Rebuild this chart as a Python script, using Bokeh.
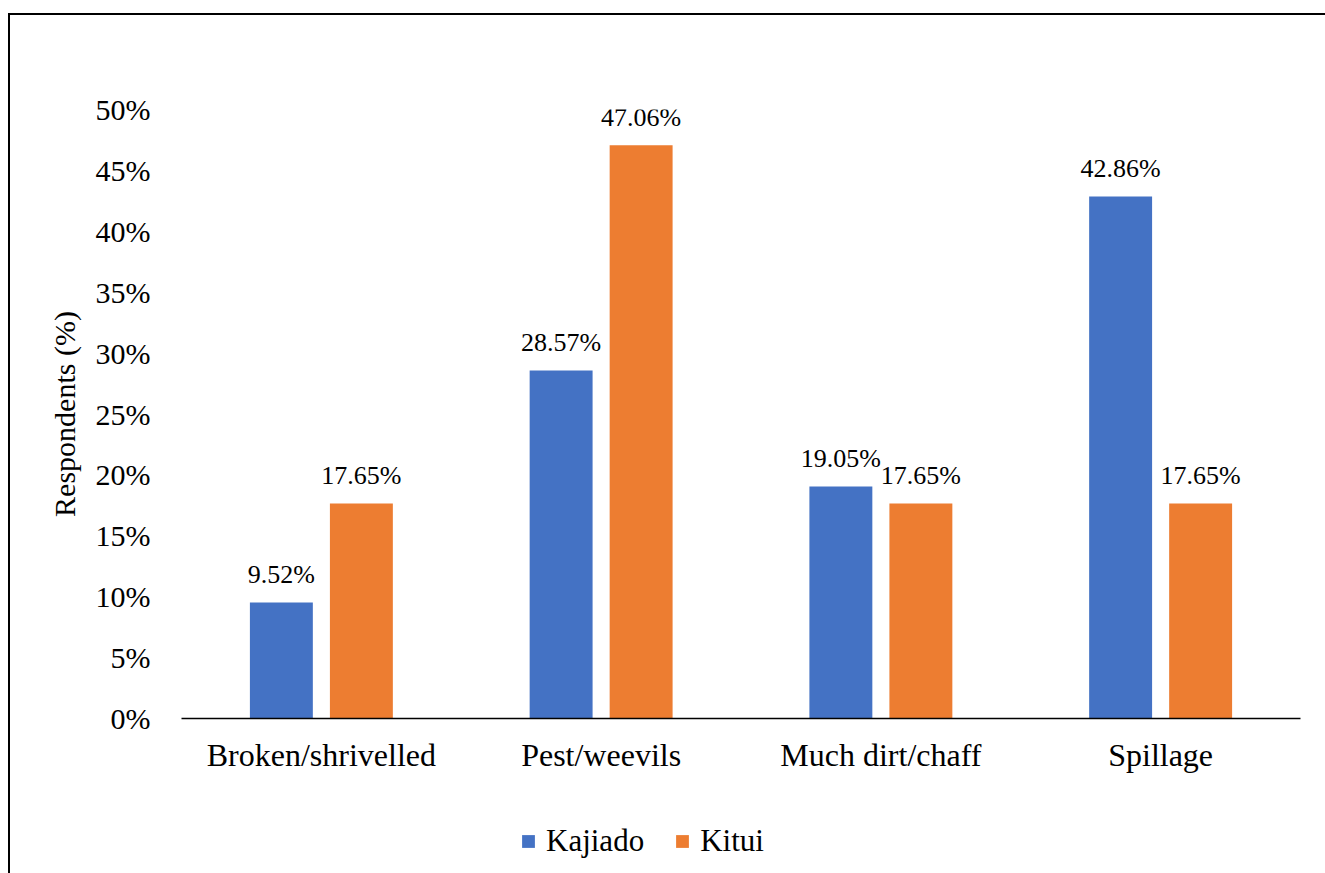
from bokeh.plotting import figure
from bokeh.layouts import column
from bokeh.models import (ColumnDataSource, FactorRange, Range1d, FixedTicker,
                          NumeralTickFormatter, Legend, LegendItem, InlineStyleSheet)
from bokeh.transform import dodge
from bokeh.embed import file_html
from bokeh.resources import INLINE

# Reasons for grain loss reported by respondents
categories = ["Broken/shrivelled", "Pest/weevils", "Much dirt/chaff", "Spillage"]
kajiado = [9.52, 28.57, 19.05, 42.86]
kitui = [17.65, 47.06, 17.65, 17.65]
y_ticks = [0, 5, 10, 15, 20, 25, 30, 35, 40, 45, 50]
series_names = ["Kajiado", "Kitui"]

FONT = "Liberation Serif"
BLUE = "#4472C4"
ORANGE = "#ED7D31"

src = ColumnDataSource(dict(
    cat=categories,
    kaj=[v / 100 for v in kajiado],
    kit=[v / 100 for v in kitui],
    kaj_lbl=[f"{v:.2f}%" for v in kajiado],
    kit_lbl=[f"{v:.2f}%" for v in kitui],
))

W, H_MAIN, H_LEG = 1325, 800, 73

p = figure(width=W, height=H_MAIN, x_range=FactorRange(*categories),
           y_range=Range1d(0, 0.5), output_backend="svg", toolbar_location=None,
           min_border_left=181, min_border_right=25, min_border_top=109,
           min_border_bottom=H_MAIN - 718)
p.background_fill_color = "white"
p.border_fill_color = "white"
p.outline_line_color = None
p.grid.visible = False

off = 0.143
w = 0.225
p.vbar(x=dodge("cat", -off, range=p.x_range), top="kaj", width=w, source=src,
       fill_color=BLUE, line_color=None)
p.vbar(x=dodge("cat", off, range=p.x_range), top="kit", width=w, source=src,
       fill_color=ORANGE, line_color=None)

for col, lbl, dx in (("kaj", "kaj_lbl", -off), ("kit", "kit_lbl", off)):
    p.text(x=dodge("cat", dx, range=p.x_range), y=col, text=lbl, source=src,
           text_font={"value": FONT}, text_font_size="26px", text_color="black",
           text_align="center", text_baseline="middle", y_offset=-28)

# y axis
yax = p.yaxis[0]
yax.ticker = FixedTicker(ticks=[t / 100 for t in y_ticks])
yax.formatter = NumeralTickFormatter(format="0%")
yax.axis_line_color = None
yax.major_tick_line_color = None
yax.minor_tick_line_color = None
yax.major_tick_out = 0
yax.major_tick_in = 0
yax.major_label_text_font = FONT
yax.major_label_text_font_size = "30px"
yax.major_label_text_color = "black"
yax.major_label_standoff = 31
yax.axis_label = "Respondents (%)"
yax.axis_label_text_font = FONT
yax.axis_label_text_font_size = "30px"
yax.axis_label_text_font_style = "normal"
yax.axis_label_text_color = "black"
yax.axis_label_standoff = 12

# x axis
xax = p.xaxis[0]
xax.axis_line_color = "black"
xax.axis_line_width = 1.5
xax.major_tick_line_color = None
xax.minor_tick_line_color = None
xax.major_tick_out = 0
xax.major_tick_in = 0
xax.major_label_text_font = FONT
xax.major_label_text_font_size = "32px"
xax.major_label_text_color = "black"
xax.major_label_standoff = 18

# legend strip below the chart (its frame lines up with the chart frame)
lg = figure(width=W, height=H_LEG, x_range=Range1d(0, 1), y_range=Range1d(0, 1),
            output_backend="svg", toolbar_location=None,
            x_axis_location=None, y_axis_location=None,
            min_border_left=0, min_border_right=0,
            min_border_top=0, min_border_bottom=0)
lg.outline_line_color = None
lg.grid.visible = False
lg.background_fill_color = "white"
lg.border_fill_color = "white"
# flat (zero-height) swatch renderers that only feed the legend
s1 = lg.vbar(x=[0.5], top=[0], bottom=[0], width=0.01,
             fill_color=BLUE, line_color=None)
s2 = lg.vbar(x=[0.5], top=[0], bottom=[0], width=0.01,
             fill_color=ORANGE, line_color=None)
legend = Legend(items=[LegendItem(label=series_names[0], renderers=[s1]),
                       LegendItem(label=series_names[1], renderers=[s2])],
                orientation="horizontal", location=(339, 14),
                label_text_font=FONT, label_text_font_size="31px",
                label_text_color="black", glyph_width=16, glyph_height=16,
                label_standoff=10, spacing=30, padding=0, margin=0,
                border_line_color=None, background_fill_alpha=0)
lg.add_layout(legend, "center")

# thin outer chart border (left and top edges visible)
frame_css = InlineStyleSheet(css="""
:host { position: relative; }
:host::after {
  content: "";
  position: absolute;
  left: 8px; top: 13px; right: 0px; bottom: 0px;
  border-left: 2px solid black;
  border-top: 2px solid black;
  pointer-events: none;
  z-index: 10;
}
""")
page = column(p, lg, spacing=0, stylesheets=[frame_css])

open("out.html", "w").write(file_html(page, INLINE))
